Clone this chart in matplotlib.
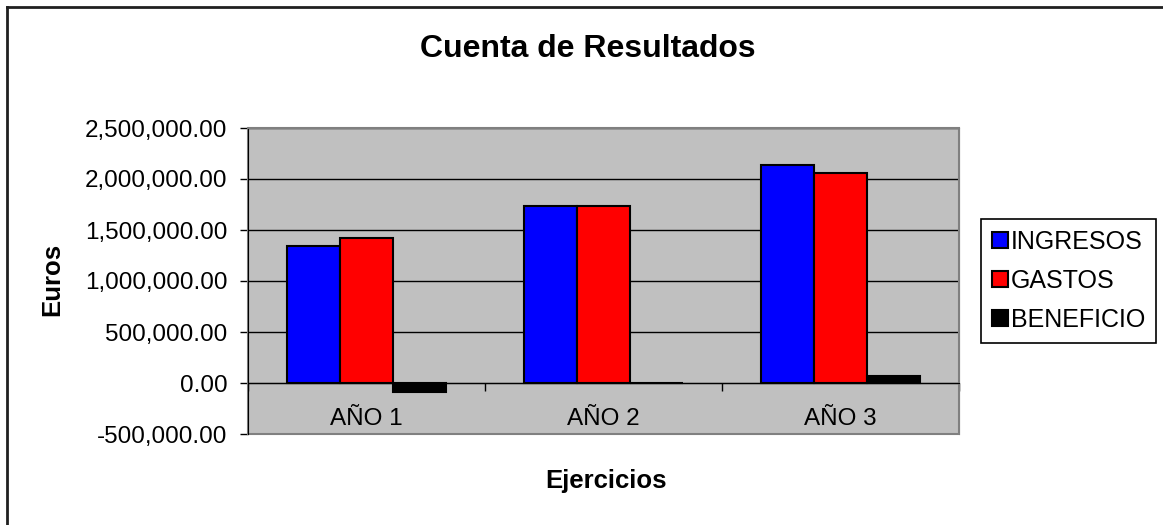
import matplotlib.pyplot as plt
from matplotlib.patches import Rectangle
from matplotlib.lines import Line2D
import numpy as np

plt.rcParams['font.family'] = ['Liberation Sans', 'DejaVu Sans']

categories = ['AÑO 1', 'AÑO 2', 'AÑO 3']
series = ['INGRESOS', 'GASTOS', 'BENEFICIO']
ingresos = [1347000, 1740000, 2135000]
gastos = [1425000, 1740000, 2060000]
beneficio = [-90000, 0, 66000]
colors = ['#0000FF', '#FF0000', '#000000']

fig = plt.figure(figsize=(11.63, 5.25), dpi=100)
ax = fig.add_axes([248 / 1163, 1 - 434 / 525, 711 / 1163, 306 / 525])
ax.set_facecolor('#C0C0C0')

x = np.arange(len(categories))
w = 0.2236
for j, (vals, c, name) in enumerate(zip([ingresos, gastos, beneficio], colors, series)):
    ax.bar(x + (j - 1) * w, vals, width=w, color=c, edgecolor='black',
           linewidth=1.5, label=name, zorder=3)

ax.set_xlim(-0.5, 2.5)
ax.set_ylim(-500000, 2500000)
ax.set_yticks(np.arange(-500000, 2500001, 500000))
ax.yaxis.set_major_formatter(plt.FuncFormatter(lambda v, p: f'{v:,.2f}'))
ax.grid(axis='y', color='black', linewidth=1)
ax.set_axisbelow(True)

# category axis crosses at zero
ax.spines['bottom'].set_position(('data', 0))
ax.spines['bottom'].set_color('black')
ax.spines['left'].set_color('black')
ax.spines['top'].set_color('#808080')
ax.spines['right'].set_color('#808080')
ax.add_patch(Rectangle((0, 0), 1, 1, transform=ax.transAxes, fill=False,
                       edgecolor='#808080', linewidth=1.5, clip_on=False, zorder=1))

ax.set_xticks([-0.5, 0.5, 1.5, 2.5])
ax.set_xticklabels([])
ax.set_xticks(x, minor=True)
ax.set_xticklabels(categories, minor=True)
ax.tick_params(axis='x', which='major', direction='out', length=5.8, width=1)
ax.tick_params(axis='x', which='minor', length=0, pad=18, labelsize=17.5)
ax.tick_params(axis='y', direction='out', length=5.8, width=1, pad=9, labelsize=17.5)

fig.text(588 / 1163, 1 - 57 / 525, 'Cuenta de Resultados', ha='center',
         va='baseline', fontsize=23, fontweight='bold')
fig.text(606 / 1163, 1 - 488 / 525, 'Ejercicios', ha='center',
         va='baseline', fontsize=18.5, fontweight='bold')
fig.text(52 / 1163, 1 - 279 / 525, 'Euros', ha='center', va='center',
         rotation=90, fontsize=18.5, fontweight='bold')

leg = fig.legend(loc='center left', bbox_to_anchor=(981 / 1163, 1 - 281 / 525),
                 fontsize=18, frameon=True, fancybox=False, edgecolor='black',
                 framealpha=1, handlelength=0.62, handleheight=0.62,
                 handletextpad=0.12, labelspacing=0.6, borderpad=0.45,
                 borderaxespad=0)
leg.get_frame().set_linewidth(1.2)

# outer chart frame (left and top visible)
fig.add_artist(Line2D([7 / 1163, 7 / 1163], [0, 1 - 7 / 525], color='#202020',
                      linewidth=2, transform=fig.transFigure))
fig.add_artist(Line2D([7 / 1163, 1], [1 - 7 / 525, 1 - 7 / 525], color='#202020',
                      linewidth=2, transform=fig.transFigure))

fig.savefig('out.png', dpi=100)
